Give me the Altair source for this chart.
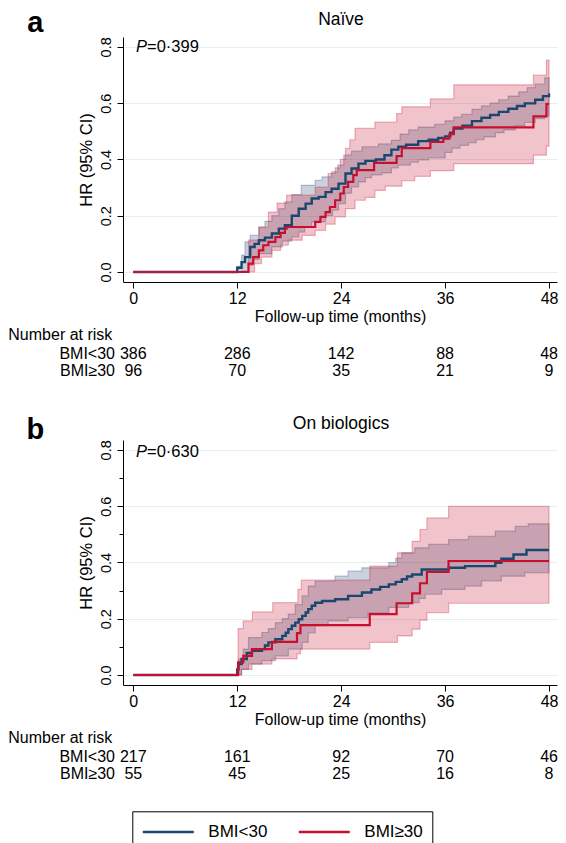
import altair as alt
import pandas as pd

BLUE = "#1a476f"
RED = "#c8102e"
GROUPS = ["BMI<30", "BMI≥30"]
FONT = "Liberation Sans"

months = [0, 12, 24, 36, 48]

# ---------------- Panel a: Naive ----------------
a_blue_t = [0, 12.0, 12.5, 12.9, 13.5, 14.0, 14.5, 15.2, 16.0, 16.8, 17.5, 18.3, 19.1, 19.9, 20.6, 21.4,
            22.2, 22.9, 23.7, 24.5, 25.2, 26.0, 26.8, 28.0, 29.0, 29.8, 30.6, 31.5, 32.9, 34.1, 35.2, 36.0,
            36.6, 37.0, 38.0, 39.1, 40.2, 41.2, 42.2, 43.3, 44.3, 45.2, 46.4, 47.3, 48.0]
a_blue_v = [0, 0.015, 0.035, 0.053, 0.089, 0.10, 0.113, 0.122, 0.137, 0.154, 0.166, 0.20, 0.225, 0.243, 0.261, 0.267,
            0.284, 0.296, 0.314, 0.35, 0.368, 0.385, 0.395, 0.40, 0.415, 0.435, 0.445, 0.452, 0.465, 0.47, 0.476, 0.482,
            0.495, 0.51, 0.52, 0.536, 0.548, 0.558, 0.569, 0.58, 0.59, 0.599, 0.612, 0.625, 0.634]

a_red_t = [0, 13.3, 13.85, 14.5, 15.0, 15.6, 16.4, 17.0, 17.5, 17.7, 21.0, 21.6, 22.2, 22.7, 23.3, 23.9,
           24.3, 24.8, 25.4, 25.8, 27.8, 30.4, 31.0, 34.3, 35.8, 36.5, 37.0, 46.2, 47.7, 48.0]
a_red_v = [0, 0.03, 0.053, 0.077, 0.095, 0.107, 0.124, 0.139, 0.154, 0.16, 0.178, 0.196, 0.213, 0.231, 0.255, 0.279,
           0.302, 0.32, 0.344, 0.362, 0.388, 0.412, 0.44, 0.462, 0.474, 0.49, 0.514, 0.553, 0.597, 0.597]

a_blue_hi_t = [12.0, 12.5, 12.9, 13.5, 14.5, 15.2, 16.0, 16.8, 17.5, 18.3, 19.4, 21.0, 21.8, 22.9, 23.6, 24.3,
               25.2, 26.4, 28.3, 29.8, 30.8, 31.8, 32.9, 34.8, 36.0, 37.0, 37.9, 39.1, 40.2, 41.2, 42.2, 43.3,
               44.5, 45.5, 46.4, 47.5, 48.0]
a_blue_hi_v = [0.02, 0.06, 0.107, 0.13, 0.16, 0.18, 0.20, 0.225, 0.249, 0.275, 0.308, 0.326, 0.338, 0.356, 0.38, 0.415,
               0.43, 0.445, 0.455, 0.468, 0.49, 0.505, 0.515, 0.525, 0.537, 0.55, 0.56, 0.578, 0.59, 0.60, 0.612, 0.625,
               0.64, 0.655, 0.668, 0.69, 0.69]
a_blue_lo_t = [12.0, 12.5, 13.3, 13.8, 14.5, 16.0, 17.2, 18.3, 19.1, 19.8, 20.6, 22.2, 23.0, 23.7, 24.5, 25.2,
               26.0, 26.8, 27.5, 28.7, 29.8, 30.6, 32.0, 32.9, 34.1, 36.0, 36.8, 37.7, 38.7, 39.6, 40.5, 41.8,
               42.8, 44.1, 45.2, 46.4, 47.5, 48.0]
a_blue_lo_v = [0.0, 0.004, 0.024, 0.045, 0.065, 0.089, 0.11, 0.125, 0.142, 0.16, 0.178, 0.20, 0.22, 0.243, 0.28, 0.302,
               0.32, 0.335, 0.345, 0.352, 0.37, 0.38, 0.39, 0.398, 0.405, 0.425, 0.44, 0.45, 0.46, 0.47, 0.48, 0.495,
               0.505, 0.52, 0.532, 0.545, 0.555, 0.555]

a_red_hi_t = [13.3, 14.5, 15.6, 16.6, 17.7, 21.0, 22.5, 23.3, 23.9, 24.5, 25.0, 25.6, 27.9, 30.4, 31.0, 34.3,
              37.0, 46.2, 47.7, 48.0]
a_red_hi_v = [0.113, 0.16, 0.213, 0.245, 0.273, 0.302, 0.35, 0.37, 0.40, 0.439, 0.47, 0.51, 0.533, 0.563, 0.587, 0.615,
              0.665, 0.70, 0.753, 0.753]
a_red_lo_t = [13.3, 14.0, 14.8, 16.0, 17.0, 17.9, 19.5, 21.0, 22.2, 23.3, 24.5, 25.6, 26.8, 27.9, 29.1, 31.0,
              32.5, 34.3, 37.0, 46.2, 47.7, 48.0]
a_red_lo_v = [0.0, 0.03, 0.053, 0.077, 0.095, 0.113, 0.13, 0.148, 0.17, 0.196, 0.225, 0.255, 0.265, 0.29, 0.305, 0.325,
              0.34, 0.36, 0.385, 0.415, 0.447, 0.447]

a_risk_lt30 = [386, 286, 142, 88, 48]
a_risk_ge30 = [96, 70, 35, 21, 9]

# ---------------- Panel b: On biologics ----------------
b_blue_t = [0, 12.0, 12.15, 12.5, 13.1, 13.7, 14.85, 15.2, 15.6, 16.4, 17.2, 17.6, 17.9, 18.3, 18.7, 19.1,
            19.5, 19.9, 20.2, 20.6, 21.0, 21.8, 23.3, 24.8, 26.4, 27.5, 28.5, 29.5, 30.3, 31.0, 31.6, 32.2,
            33.3, 36.4, 38.3, 41.8, 42.5, 43.9, 45.4, 48.0]
b_blue_v = [0, 0.02, 0.039, 0.057, 0.078, 0.086, 0.092, 0.105, 0.116, 0.127, 0.139, 0.15, 0.163, 0.175, 0.186, 0.198,
            0.21, 0.222, 0.234, 0.246, 0.257, 0.263, 0.269, 0.281, 0.293, 0.304, 0.313, 0.322, 0.331, 0.34, 0.35, 0.357,
            0.375, 0.381, 0.387, 0.399, 0.413, 0.428, 0.444, 0.444]

b_red_t = [0, 12.1, 12.7, 13.7, 16.0, 18.9, 19.3, 27.3, 30.4, 32.2, 33.1, 33.9, 36.4, 48.0]
b_red_v = [0, 0.045, 0.068, 0.092, 0.118, 0.149, 0.177, 0.216, 0.255, 0.29, 0.326, 0.366, 0.405, 0.405]

b_blue_hi_t = [12.0, 12.15, 12.7, 13.3, 14.85, 15.6, 16.4, 17.2, 17.9, 18.7, 19.5, 20.2, 21.0, 23.3, 24.8, 26.4,
               29.5, 30.3, 31.0, 32.5, 34.1, 36.4, 38.7, 41.8, 44.1, 45.6, 48.0]
b_blue_hi_v = [0.03, 0.057, 0.092, 0.133, 0.151, 0.165, 0.186, 0.20, 0.216, 0.25, 0.281, 0.316, 0.334, 0.351, 0.369, 0.381,
               0.399, 0.415, 0.434, 0.452, 0.464, 0.481, 0.493, 0.511, 0.528, 0.537, 0.537]
b_blue_lo_t = [12.0, 12.5, 13.3, 14.85, 16.4, 17.9, 19.5, 20.2, 21.0, 22.5, 24.8, 27.1, 29.5, 31.8, 33.0, 33.7,
               35.6, 38.3, 40.2, 42.5, 45.2, 48.0]
b_blue_lo_v = [0.0, 0.02, 0.039, 0.051, 0.068, 0.092, 0.116, 0.15, 0.175, 0.192, 0.204, 0.222, 0.24, 0.257, 0.272, 0.287,
               0.304, 0.316, 0.334, 0.351, 0.364, 0.364]

b_red_hi_t = [12.1, 12.7, 13.75, 16.1, 19.0, 19.4, 27.3, 30.5, 32.2, 33.1, 33.9, 36.4, 48.0]
b_red_hi_v = [0.165, 0.192, 0.224, 0.257, 0.304, 0.337, 0.387, 0.434, 0.475, 0.517, 0.558, 0.599, 0.599]
b_red_lo_t = [12.1, 12.5, 13.7, 16.0, 18.9, 19.3, 27.3, 30.5, 32.2, 33.1, 33.9, 36.4, 48.0]
b_red_lo_v = [0.0, 0.02, 0.039, 0.057, 0.075, 0.092, 0.116, 0.139, 0.163, 0.195, 0.222, 0.255, 0.255]

b_risk_lt30 = [217, 161, 92, 70, 46]
b_risk_ge30 = [55, 45, 25, 16, 8]

# ---------------- helpers ----------------
XDOM = [-1.19, 48.92]
YDOM = [-0.0355, 0.835]
W, H = 434, 245


def step_at(ts, vs, x):
    val = vs[0]
    for tt, vv in zip(ts, vs):
        if tt <= x + 1e-9:
            val = vv
    return val


def line_df(t, v, group):
    return pd.DataFrame({"t": t, "v": v, "group": group})


def band_df(th, vh, tl, vl):
    ts = sorted(set(th) | set(tl))
    return pd.DataFrame({"t": ts,
                         "hi": [step_at(th, vh, x) for x in ts],
                         "lo": [step_at(tl, vl, x) for x in ts]})


def x_enc():
    return alt.X("t:Q", scale=alt.Scale(domain=XDOM, nice=False, zero=False),
                 axis=alt.Axis(values=months, title="Follow-up time (months)", grid=False,
                               tickSize=6, labelFontSize=16, labelPadding=2, titleFontSize=16,
                               titlePadding=2, labelFlush=False))


def y_axis(minor):
    common = dict(title="HR (95% CI)", labelAngle=270, labelAlign="center", labelBaseline="bottom",
                  labelFontSize=14.5, labelPadding=4, titleFontSize=16.5, titlePadding=4, grid=True)
    if minor:
        return alt.Axis(values=[0, 0.1, 0.2, 0.3, 0.4, 0.5, 0.6, 0.7, 0.8],
                        labelExpr="round(datum.value*10) % 2 == 0 ? format(datum.value, '.1f') : ''",
                        gridOpacity={"condition": {"test": "round(datum.value*10) % 2 == 1", "value": 0}, "value": 1},
                        tickSize={"condition": {"test": "round(datum.value*10) % 2 == 1", "value": 4}, "value": 6},
                        **common)
    return alt.Axis(values=[0, 0.2, 0.4, 0.6, 0.8], format=".1f", tickSize=6, **common)


def panel(title, title_y, letter, letter_y, pval, p_y, bl, rl, bb, rb, risk_lt, risk_ge, minor, legend):
    yscale = alt.Scale(domain=YDOM, nice=False, zero=False)
    yax = y_axis(minor)
    bandb = alt.Chart(bb).mark_area(interpolate="step-after", color=BLUE, fillOpacity=0.24,
                                    stroke=BLUE, strokeOpacity=0.3, strokeWidth=1.2).encode(
        x=x_enc(), y=alt.Y("lo:Q", scale=yscale, axis=yax), y2="hi:Q")
    bandr = alt.Chart(rb).mark_area(interpolate="step-after", color=RED, fillOpacity=0.25,
                                    stroke=RED, strokeOpacity=0.3, strokeWidth=1.2).encode(
        x=x_enc(), y=alt.Y("lo:Q", scale=yscale, axis=yax), y2="hi:Q")
    if legend:
        cenc = alt.Color("group:N", scale=alt.Scale(domain=GROUPS, range=[BLUE, RED]),
                         legend=alt.Legend(title=None, orient="none", direction="horizontal",
                                           legendX=9.3, legendY=371.3,
                                           symbolType="M-2.55,0H2.55", symbolSize=400,
                                           symbolOffset=15.5, symbolStrokeWidth=2.6,
                                           labelFontSize=17, labelFont=FONT, labelColor="black",
                                           labelOffset=28.5, columnPadding=25, padding=9,
                                           strokeColor="black", fillColor="white",
                                           cornerRadius=0, rowPadding=0))
    else:
        cenc = alt.Color("group:N", scale=alt.Scale(domain=GROUPS, range=[BLUE, RED]), legend=None)
    lineb = alt.Chart(bl).mark_line(interpolate="step-after", strokeWidth=2.4).encode(
        x=x_enc(), y=alt.Y("v:Q", scale=yscale, axis=yax), color=cenc)
    liner = alt.Chart(rl).mark_line(interpolate="step-after", strokeWidth=2.2).encode(
        x=x_enc(), y=alt.Y("v:Q", scale=yscale, axis=yax), color=cenc)

    risk = pd.DataFrame({"t": months, "lt": risk_lt, "ge": risk_ge})
    txt = dict(font=FONT, fontSize=16, fontWeight="normal", color="black", baseline="middle")
    r1 = alt.Chart(risk).mark_text(align="center", **txt).encode(
        x=x_enc(), y=alt.value(317.3), text="lt:Q")
    r2 = alt.Chart(risk).mark_text(align="center", **txt).encode(
        x=x_enc(), y=alt.value(334.3), text="ge:Q")
    one = pd.DataFrame({"k": [0]})
    head = alt.Chart(one).mark_text(align="left", **txt).encode(
        x=alt.value(-114.7), y=alt.value(298.3), text=alt.value("Number at risk"))
    lab1 = alt.Chart(one).mark_text(align="right", **txt).encode(
        x=alt.value(-8), y=alt.value(317.3), text=alt.value(GROUPS[0]))
    lab2 = alt.Chart(one).mark_text(align="right", **txt).encode(
        x=alt.value(-8), y=alt.value(334.3), text=alt.value(GROUPS[1]))
    ttl = alt.Chart(one).mark_text(align="center", font=FONT, fontSize=17.5, fontWeight="normal",
                                   color="black", baseline="middle").encode(
        x=alt.value(W / 2 + 1), y=alt.value(title_y), text=alt.value(title))
    let = alt.Chart(one).mark_text(align="center", baseline="middle", font=FONT, fontSize=29,
                                   fontWeight="bold", color="black").encode(
        x=alt.value(-87.7), y=alt.value(letter_y), text=alt.value(letter))
    pp = alt.Chart(one).mark_text(align="left", font=FONT, fontSize=16.5, fontStyle="italic",
                                  fontWeight="normal", color="black", baseline="middle").encode(
        x=alt.value(13), y=alt.value(p_y), text=alt.value("P"))
    pv = alt.Chart(one).mark_text(align="left", font=FONT, fontSize=16.5, fontWeight="normal",
                                  color="black", baseline="middle").encode(
        x=alt.value(24), y=alt.value(p_y), text=alt.value(pval))

    return alt.layer(bandb, bandr, lineb, liner, r1, r2, head, lab1, lab2, ttl, let, pp, pv).properties(
        width=W, height=H)


pa = panel("Naïve", -16.7, "a", -14.4, "=0·399", 10,
           line_df(a_blue_t, a_blue_v, GROUPS[0]), line_df(a_red_t, a_red_v, GROUPS[1]),
           band_df(a_blue_hi_t, a_blue_hi_v, a_blue_lo_t, a_blue_lo_v),
           band_df(a_red_hi_t, a_red_hi_v, a_red_lo_t, a_red_lo_v),
           a_risk_lt30, a_risk_ge30, False, False)
pb = panel("On biologics", -15.7, "b", -10.1, "=0·630", 12.3,
           line_df(b_blue_t, b_blue_v, GROUPS[0]), line_df(b_red_t, b_red_v, GROUPS[1]),
           band_df(b_blue_hi_t, b_blue_hi_v, b_blue_lo_t, b_blue_lo_v),
           band_df(b_red_hi_t, b_red_hi_v, b_red_lo_t, b_red_lo_v),
           b_risk_lt30, b_risk_ge30, True, True)

chart = alt.vconcat(pa, pb, spacing=35).resolve_scale(color="independent").resolve_legend(
    color="independent").properties(
    padding={"left": 0, "top": 0, "right": 0, "bottom": 0}
).configure_view(stroke=None).configure_axis(
    domainColor="black", tickColor="black", labelColor="black", titleColor="black",
    labelFont=FONT, titleFont=FONT, titleFontWeight="normal", gridColor="#e5eef0", gridWidth=1,
    domainWidth=1, tickWidth=1
)

chart.save("out.html", embed_options={"renderer": "svg", "actions": False})
